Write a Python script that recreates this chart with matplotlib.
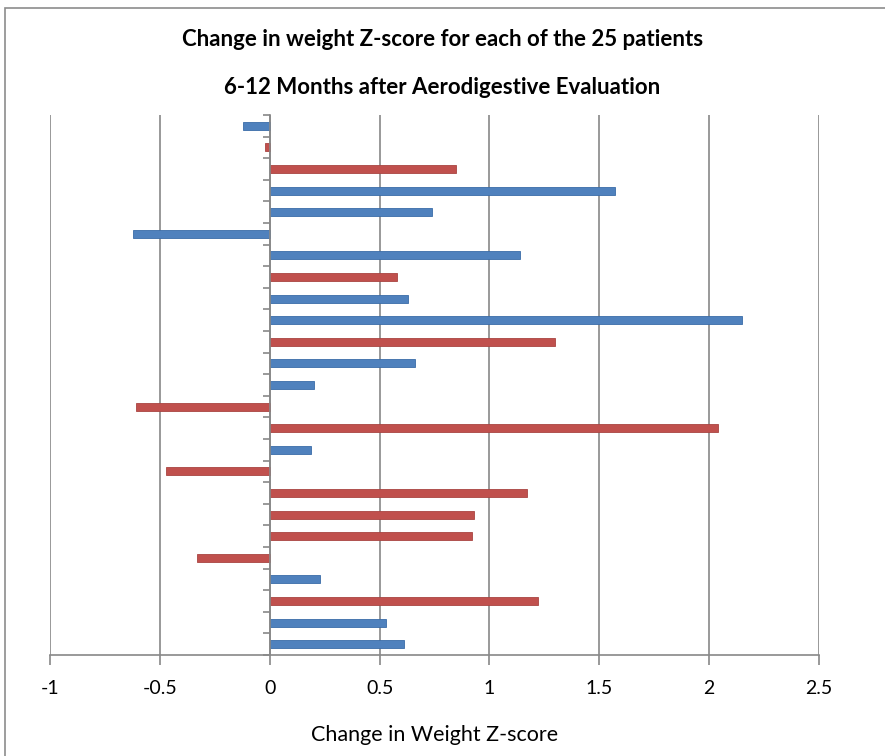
import numpy as np
import matplotlib.pyplot as plt
from matplotlib.patches import Rectangle

plt.rcParams['font.family'] = ['Lato', 'DejaVu Sans']

# values for the 25 patients, listed top to bottom as in the chart
z_change = [-0.12, -0.02, 0.85, 1.57, 0.74, -0.62, 1.14, 0.58, 0.63, 2.15,
            1.30, 0.66, 0.20, -0.61, 2.04, 0.19, -0.47, 1.17, 0.93, 0.92,
            -0.33, 0.23, 1.22, 0.53, 0.61]
group = ['b', 'r', 'r', 'b', 'b', 'b', 'b', 'r', 'b', 'b',
         'r', 'b', 'b', 'r', 'r', 'b', 'r', 'r', 'r', 'r',
         'r', 'b', 'r', 'b', 'b']
x_ticks = [-1, -0.5, 0, 0.5, 1, 1.5, 2, 2.5]
x_tick_labels = ['-1', '-0.5', '0', '0.5', '1', '1.5', '2', '2.5']

colors = {'b': '#4F81BD', 'r': '#C0504D'}
edges = {'b': '#3A6CA8', 'r': '#A94441'}

fig = plt.figure(figsize=(8.85, 7.56), dpi=100)
ax = fig.add_axes([50 / 885, 1 - 655 / 756, 769 / 885, 540 / 756])

pos = np.arange(len(z_change))
ax.barh(pos, z_change, height=0.37,
        color=[colors[g] for g in group],
        edgecolor=[edges[g] for g in group], linewidth=0.6, zorder=3)

ax.set_xlim(-1, 2.5)
ax.set_ylim(len(z_change) - 0.5, -0.5)
ax.set_xticks(x_ticks)
ax.set_xticklabels(x_tick_labels, fontsize=14)
ax.tick_params(axis='x', length=7, width=1.2, color='#888888', pad=11)

ax.set_yticks([])
ax.set_yticks(np.arange(-0.5, len(z_change)), minor=True)
ax.tick_params(axis='y', which='minor', length=5, width=1.2, color='#888888',
               direction='out', labelleft=False)

ax.grid(axis='x', color='#888888', linewidth=1.2, zorder=0)
for s in ['top', 'right']:
    ax.spines[s].set_visible(False)
ax.spines['left'].set_position(('data', 0))
ax.spines['left'].set_color('#888888')
ax.spines['left'].set_linewidth(1.2)
ax.spines['left'].set_zorder(4)
ax.spines['bottom'].set_color('#888888')
ax.spines['bottom'].set_linewidth(1.2)

ax.set_xlabel('Change in Weight Z-score', fontsize=15.5, labelpad=20)

fig.text(0.5, 1 - 40 / 756, 'Change in weight Z-score for each of the 25 patients',
         ha='center', va='center', fontsize=16, fontweight='bold')
fig.text(0.5, 1 - 88 / 756, '6-12 Months after Aerodigestive Evaluation',
         ha='center', va='center', fontsize=16, fontweight='bold')

# outer frame of the chart area
fig.patches.append(Rectangle((5 / 885, -0.1), 1.2, 1 - 8 / 756 + 0.1,
                             transform=fig.transFigure, fill=False,
                             edgecolor='#8c8c8c', linewidth=1.2))

fig.savefig('out.png', dpi=100)
